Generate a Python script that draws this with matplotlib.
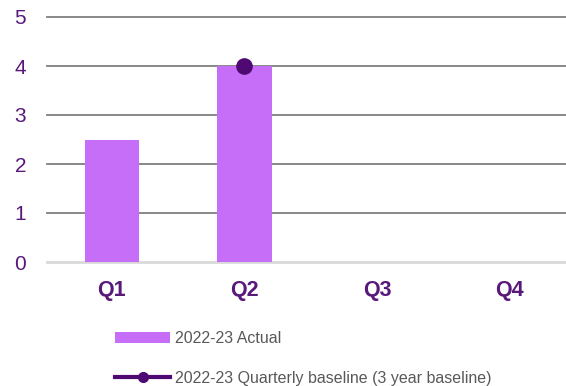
import matplotlib
matplotlib.use("Agg")
import matplotlib.pyplot as plt
import numpy as np
from matplotlib.patches import Patch
from matplotlib.lines import Line2D

plt.rcParams['font.family'] = ['Liberation Sans', 'DejaVu Sans']

quarters = ["Q1", "Q2", "Q3", "Q4"]
actual = [2.5, 4.0, np.nan, np.nan]
baseline = [np.nan, 4.0, np.nan, np.nan]
y_ticks = [0, 1, 2, 3, 4, 5]

bar_color = "#C66EF7"
line_color = "#4E0A72"
label_color = "#58197A"
legend_text_color = "#595959"

fig = plt.figure(figsize=(5.66, 3.86), dpi=100)
ax = fig.add_axes([47 / 566, 124 / 386, 519 / 566, 245 / 386])

x = np.arange(len(quarters))
ax.bar(x, actual, width=0.41, color=bar_color, zorder=3)
ax.plot(x, baseline, color=line_color, marker="o", markersize=11, lw=3, zorder=4)

for v in y_ticks[1:]:
    ax.axhline(v, color="#7F7F7F", lw=1.3, zorder=1, clip_on=False)
ax.axhline(0, color="#D9D9D9", lw=2, zorder=2, clip_on=False)

ax.set_xlim(-0.49, -0.49 + 519 / 132.5)
ax.set_ylim(0, 5)
ax.set_xticks(x)
ax.set_xticklabels(quarters, fontsize=15.5, fontweight="bold", color=label_color)
ax.set_yticks(y_ticks)
ax.set_yticklabels([str(v) for v in y_ticks], fontsize=15, color=label_color)
ax.tick_params(axis="x", length=0, pad=13)
ax.tick_params(axis="y", length=0, pad=15)
for s in ax.spines.values():
    s.set_visible(False)

handles = [
    Patch(facecolor=bar_color, edgecolor="none"),
    Line2D([0], [0], color=line_color, lw=3, marker="o", markersize=7),
]
labels = ["2022-23 Actual", "2022-23 Quarterly baseline (3 year baseline)"]
fig.legend(handles, labels, loc="upper left",
           bbox_to_anchor=(115 / 566, 1 - 331 / 386), frameon=False,
           fontsize=11.5, labelcolor=legend_text_color, handlelength=3.45,
           handletextpad=0.3, labelspacing=1.55, borderpad=0, borderaxespad=0)

fig.savefig("out.png", dpi=100)
